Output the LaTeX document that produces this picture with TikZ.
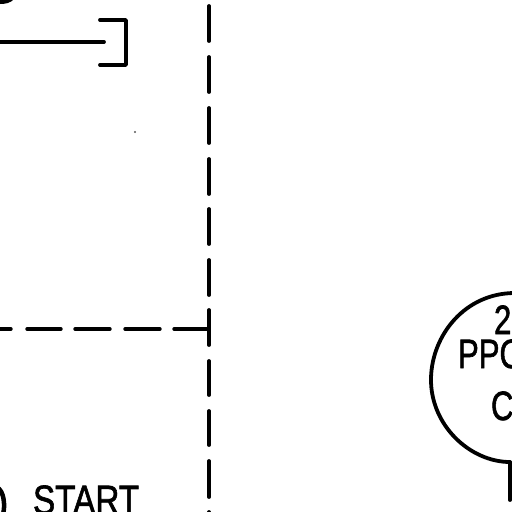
\documentclass[tikz,border=0pt]{standalone}
\usepackage{fontspec}
\newfontfamily\heavy[FakeBold=1.6]{Liberation Sans}
\tikzset{
  ink/.style={draw=black,line width=3.8pt,line cap=round,line join=round},
  thinink/.style={draw=black,line width=3.4pt,line cap=round},
  lbl/.style={inner sep=0pt,outer sep=0pt,font=\heavy\fontsize{41}{41}\selectfont,text=black,xscale=.76}
}
\begin{document}
\begin{tikzpicture}[x=1pt,y=-1pt]
\useasboundingbox (0,0) rectangle (512,512);
\clip (0,0) rectangle (512,512);
\fill[white] (0,0) rectangle (512,512);
% coordinates
\coordinate (wl) at (-3,42);
\coordinate (we) at (104,42);
\coordinate (bt) at (100,20);
\coordinate (btr) at (126,20);
\coordinate (bbr) at (126,65);
\coordinate (bb) at (100,65);
\coordinate (bus) at (209,329);
\coordinate (tap) at (510,462);
\coordinate (tapend) at (510,500);
% bracket and wire
\draw[ink] (wl) -- (we);
\draw[ink] (bt) -- (btr) -- (bbr) -- (bb);
% vertical dashed line
\foreach \a/\b in {6/41,57/92,108/143,159/194,209/244,260/295,310/345,361/395,411/445,461/497,512/530}
  \draw[ink] (209,\a) -- (209,\b);
% horizontal dashed line
\foreach \a/\b in {-5/11,27/61,75/110,125/160}
  \draw[thinink] (\a,329) -- (\b,329);
\draw[thinink] (174,329) -- (bus);
% top-left fragment
\fill[black] (0,-1) -- (14,-1) .. controls (11,3) and (5,4) .. (0,4) -- cycle;
% stray dot
\fill[black!65] (135,132) circle (1.1pt);
% circle node
\draw[ink] (tap) .. controls (470,462) and (430,425) .. (431,378)
  .. controls (432,335) and (465,293) .. (515,293);
\draw[ink] (tap) -- (tapend);
% labels
\node[lbl,anchor=base west] (two) at (494,334) {2};
\node[lbl,anchor=base west] (ppo) at (458,368) {PPO};
\node[lbl,anchor=base west] (cc) at (491,420) {C};
\node[lbl,anchor=base west,xscale=1.07] (start) at (33,514) {START};
% left fragment of a letter
\draw[black,line width=4.5pt] (-4,487) .. controls (5,490) and (5,508) .. (3,514);
\end{tikzpicture}
\end{document}
